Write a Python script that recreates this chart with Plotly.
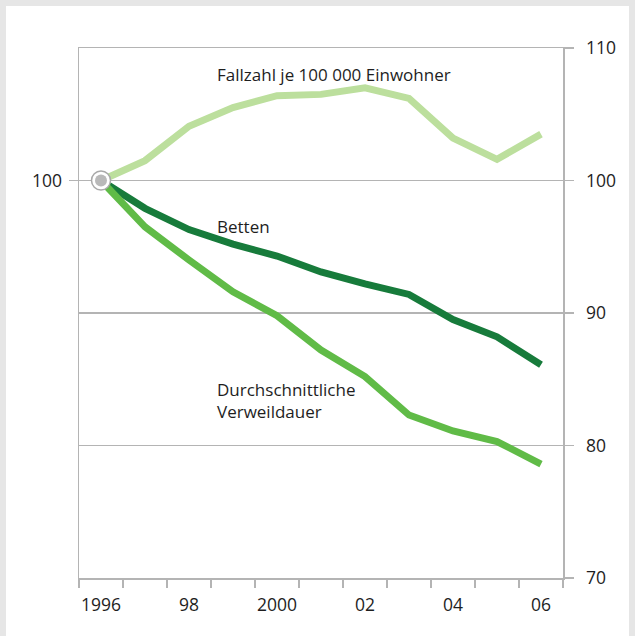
import plotly.graph_objects as go

years = [1996, 1997, 1998, 1999, 2000, 2001, 2002, 2003, 2004, 2005, 2006]
fallzahl = [100, 101.5, 104.1, 105.5, 106.4, 106.5, 107.0, 106.2, 103.2, 101.6, 103.5]
betten = [100, 97.9, 96.3, 95.2, 94.3, 93.1, 92.2, 91.4, 89.5, 88.2, 86.1]
verweildauer = [100, 96.5, 94.0, 91.6, 89.8, 87.2, 85.2, 82.3, 81.1, 80.3, 78.6]

x_tick_vals = [1996, 1998, 2000, 2002, 2004, 2006]
x_tick_text = ["1996", "98", "2000", "02", "04", "06"]
x_boundaries = [1995.5 + i for i in range(12)]
y_right_ticks = [70, 80, 90, 100, 110]
y_left_ticks = [100]

C_LIGHT = "#bcdf9d"
C_DARK = "#177b3b"
C_MID = "#60bb47"
GRID = "#b4b4b4"
TXT = "#1e1e1e"
FONT = "Open Sans"
FS = 17
TFS = 17.5

fig = go.Figure()
fig.add_trace(go.Scatter(x=years, y=betten, mode="lines",
                         line=dict(color=C_DARK, width=7), yaxis="y"))
fig.add_trace(go.Scatter(x=years, y=verweildauer, mode="lines",
                         line=dict(color=C_MID, width=7), yaxis="y"))
fig.add_trace(go.Scatter(x=years, y=fallzahl, mode="lines",
                         line=dict(color=C_LIGHT, width=7), yaxis="y"))
fig.add_trace(go.Scatter(x=[years[0]], y=[fallzahl[0]], mode="markers",
                         marker=dict(size=19, color="white",
                                     line=dict(color="#a9a9a9", width=1.5)),
                         yaxis="y"))
fig.add_trace(go.Scatter(x=[years[0]], y=[fallzahl[0]], mode="markers",
                         marker=dict(size=12, color="#b9b9b9"), yaxis="y"))

ann = dict(xref="x", yref="y", xanchor="left", showarrow=False,
           font=dict(family=FONT, size=FS, color=TXT), align="left")
annotations = [
    dict(ann, x=1998.6, y=108.0, text="Fallzahl je 100 000 Einwohner"),
    dict(ann, x=1998.6, y=96.5, text="Betten"),
    dict(ann, x=1998.6, y=83.4, text="Durchschnittliche<br>Verweildauer"),
]

# gray frame (pixel -> paper conversion: plot area 79..563 x, 48..578 y)
def px(p):
    return (p - 79) / 484.0

def py(p):
    return (578 - p) / 530.0

shapes = [
    dict(type="rect", xref="paper", yref="paper", layer="below",
         x0=px(6), x1=px(629), y0=py(700), y1=py(6),
         fillcolor="white", line=dict(width=0)),
]

fig.update_layout(
    width=635, height=636,
    margin=dict(l=79, r=72, t=48, b=58),
    paper_bgcolor="#e6e6e6",
    plot_bgcolor="white",
    showlegend=False,
    hovermode=False,
    font=dict(family=FONT, size=FS, color=TXT),
    annotations=annotations,
    shapes=shapes,
    xaxis=dict(range=[1995.5, 2006.5], tickmode="array", tickvals=x_tick_vals,
               ticktext=x_tick_text, ticks="", showgrid=False, zeroline=False,
               showline=True, linecolor=GRID, linewidth=1.5, mirror=True,
               ticklabelstandoff=10,
               tickfont=dict(family=FONT, size=TFS, color=TXT),
               minor=dict(tickmode="array", tickvals=x_boundaries, ticks="outside",
                          ticklen=8, tickcolor=GRID, tickwidth=1.5, showgrid=False)),
    yaxis=dict(range=[70, 110], side="right", tickmode="array",
               tickvals=y_right_ticks, ticks="outside", ticklen=9,
               tickcolor=GRID, tickwidth=1.5, showgrid=True, gridcolor=GRID,
               gridwidth=1.5, zeroline=False, showline=True, linecolor=GRID,
               linewidth=1.5, ticklabelstandoff=9,
               tickfont=dict(family=FONT, size=TFS, color=TXT)),
    yaxis2=dict(range=[70, 110], side="left", overlaying="y", tickmode="array",
                tickvals=y_left_ticks, ticks="outside", ticklen=9,
                tickcolor=GRID, tickwidth=1.5, showgrid=False, zeroline=False,
                showline=True, linecolor=GRID, linewidth=1.5,
                ticklabelstandoff=3,
                tickfont=dict(family=FONT, size=TFS, color=TXT)),
)
# invisible trace so the left axis is drawn
fig.add_trace(go.Scatter(x=[1996], y=[100], mode="markers",
                         marker=dict(size=0.1, opacity=0), yaxis="y2"))
fig.write_html("out.html",
               config={"displayModeBar": False, "staticPlot": True},
               post_script="document.body.style.margin='0';"
                           "document.body.style.overflow='hidden';")
